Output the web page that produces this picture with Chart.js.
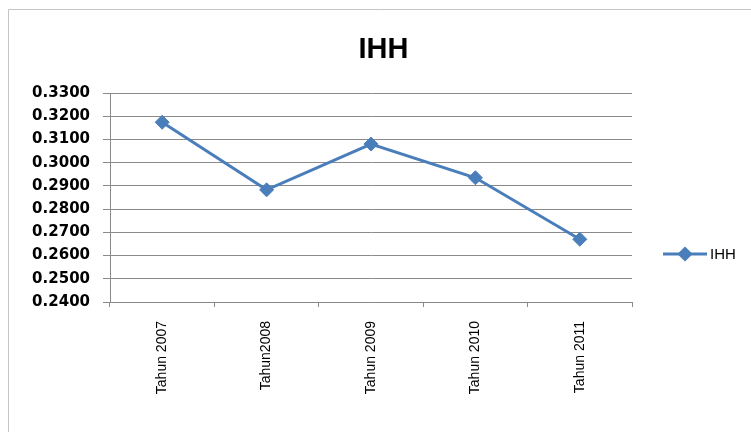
<!DOCTYPE html>
<html>
<head>
<meta charset="utf-8">
<title>IHH</title>
<script src="https://cdn.jsdelivr.net/npm/chart.js@4.4.1/dist/chart.umd.min.js"></script>
<style>
  html, body { margin: 0; padding: 0; background: #fff; }
  #myChart { display: block; }
</style>
</head>
<body>
<canvas id="myChart" width="751" height="432"></canvas>
<script>
// chart data
const categories = ["Tahun 2007", "Tahun2008", "Tahun 2009", "Tahun 2010", "Tahun 2011"];
const ihhValues = [0.3174, 0.2883, 0.3080, 0.2935, 0.2670];
const yTicks = [0.24, 0.25, 0.26, 0.27, 0.28, 0.29, 0.30, 0.31, 0.32, 0.33];

const lineColor = "#4a7ebb";
const gridColor = "#8a8a8a";

// code for the outer frame and the right side legend
const framePlugin = {
  id: "frame",
  beforeDraw: function (chart) {
    const ctx = chart.ctx;
    ctx.save();
    ctx.strokeStyle = "#c4c4c4";
    ctx.lineWidth = 1;
    ctx.beginPath();
    ctx.moveTo(8.5, chart.height);
    ctx.lineTo(8.5, 9.5);
    ctx.lineTo(chart.width, 9.5);
    ctx.stroke();
    ctx.restore();
  },
  afterDraw: function (chart) {
    const ctx = chart.ctx;
    const area = chart.chartArea;
    const ds = chart.data.datasets[0];
    const x = area.right + 31;
    const y = area.top + 161;
    ctx.save();
    ctx.strokeStyle = ds.borderColor;
    ctx.lineWidth = 3;
    ctx.beginPath();
    ctx.moveTo(x, y);
    ctx.lineTo(x + 44, y);
    ctx.stroke();
    Chart.helpers.drawPoint(ctx, { pointStyle: "rectRot", radius: 5.5, borderWidth: 1 }, x + 22, y);
    ctx.fillStyle = ds.backgroundColor;
    ctx.fill();
    ctx.fillStyle = "#000";
    ctx.font = "15px 'Liberation Sans'";
    ctx.textBaseline = "middle";
    ctx.textAlign = "left";
    ctx.fillText(ds.label, x + 47, y + 1);
    ctx.restore();
  },
};

// code for chart configaration
var ctx = document.getElementById("myChart").getContext("2d");
var myChart = new Chart(ctx, {
  type: "line",
  data: {
    labels: categories,
    datasets: [
      {
        label: "IHH",
        data: ihhValues,
        borderColor: lineColor,
        backgroundColor: lineColor,
        borderWidth: 3,
        pointStyle: "rectRot",
        pointRadius: 7,
        pointBorderWidth: 1,
        tension: 0,
        yAxisID: "y",
      },
    ],
  },
  options: {
    responsive: false,
    animation: false,
    devicePixelRatio: 1,
    layout: {
      padding: { left: 16, right: 0, top: 0, bottom: 0 },
    },
    scales: {
      x: {
        offset: true,
        grid: {
          offset: true,
          drawOnChartArea: false,
          drawTicks: true,
          tickLength: 5,
          color: gridColor,
        },
        border: { color: gridColor },
        ticks: {
          minRotation: 90,
          maxRotation: 90,
          padding: 14,
          color: "#000",
          font: { family: "Liberation Sans", size: 14 },
        },
        afterFit: function (scale) {
          scale.height = 130;
        },
      },
      y: {
        min: yTicks[0],
        max: yTicks[yTicks.length - 1],
        afterBuildTicks: function (scale) {
          scale.ticks = yTicks.map(function (v) {
            return { value: v };
          });
        },
        grid: {
          color: gridColor,
          tickLength: 7,
        },
        border: { color: gridColor },
        ticks: {
          padding: 13,
          color: "#000",
          font: { family: "DejaVu Sans", size: 15, weight: "bold" },
          callback: function (value) {
            return Number(value).toFixed(4);
          },
        },
        afterFit: function (scale) {
          scale.width = 94;
        },
      },
      // empty axis that keeps room for the legend on the right
      yRight: {
        position: "right",
        display: true,
        grid: { display: false },
        border: { display: false },
        ticks: { display: false },
        afterFit: function (scale) {
          scale.width = 119;
        },
      },
    },
    plugins: {
      legend: { display: false },
      tooltip: { enabled: false },
      title: {
        display: true,
        text: "IHH",
        color: "#000",
        font: { family: "Liberation Sans", size: 29, weight: "bold" },
        padding: { top: 32.6, bottom: 25.6 },
      },
    },
  },
  plugins: [framePlugin],
});
</script>
</body>
</html>
